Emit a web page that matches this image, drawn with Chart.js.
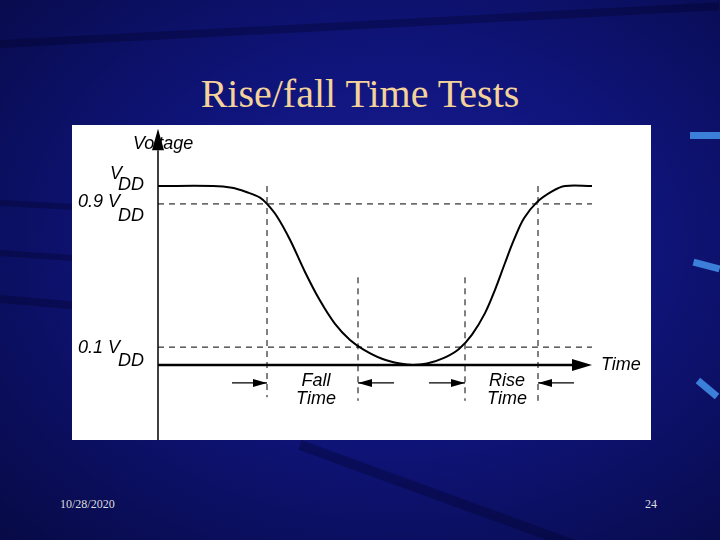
<!DOCTYPE html>
<html><head><meta charset="utf-8">
<script src="https://cdn.jsdelivr.net/npm/chart.js@4"></script>
<style>
html,body{margin:0;padding:0;width:720px;height:540px;overflow:hidden}
body{background:radial-gradient(ellipse at 55% 45%,#1a1f9a 0%,#0f147a 45%,#070a45 100%);position:relative;font-family:"Liberation Serif",serif}
.s{position:absolute;background:rgba(0,0,30,0.3);transform-origin:left center}
#title{position:absolute;left:0;width:720px;top:70px;text-align:center;color:#f3d39a;font-size:40px;font-family:"Liberation Serif",serif}
#panel{position:absolute;left:72px;top:125px;width:579px;height:315px;background:#fff}
.ft{position:absolute;top:497px;color:#ddd;font-size:12px}
</style></head><body>
<div class="s" style="left:0;top:40px;width:720px;height:8px;transform:rotate(-3deg)"></div>
<div class="s" style="left:0;top:200px;width:80px;height:6px;transform:rotate(3deg)"></div>
<div class="s" style="left:0;top:250px;width:80px;height:6px;transform:rotate(4deg)"></div>
<div class="s" style="left:0;top:295px;width:80px;height:8px;transform:rotate(5deg)"></div>
<div class="s" style="left:300px;top:440px;width:420px;height:10px;transform:rotate(20deg)"></div>
<div style="position:absolute;left:690px;top:132px;width:30px;height:7px;background:#3b7fd8"></div>
<div style="position:absolute;left:693px;top:262px;width:27px;height:7px;background:#3b7fd8;transform:rotate(15deg)"></div>
<div style="position:absolute;left:695px;top:385px;width:25px;height:7px;background:#3b7fd8;transform:rotate(40deg)"></div>
<div id="title">Rise/fall Time Tests</div>
<div id="panel"><canvas id="c" width="579" height="315"></canvas></div>
<div class="ft" style="left:60px">10/28/2020</div>
<div class="ft" style="left:645px">24</div>
<script>
// x in pixels relative to panel origin ~ time units; y = fraction of VDD
const timeX = [86,141,160,175,188,195,205,218,233,248,263,278,292,310,328,341,355,372,387,400,413,423,433,442,452,465,480,493,520];
const voltage = [1,1,0.99,0.965,0.935,0.9,0.83,0.70,0.52,0.36,0.23,0.14,0.085,0.035,0.008,0,0.008,0.040,0.090,0.17,0.29,0.42,0.57,0.70,0.82,0.91,0.97,1,1];
const levels = [0.9, 0.1];
const tFall = [195, 286];
const tRise = [393, 466];
const pts = timeX.map((x,i)=>({x, y:voltage[i]}));
const ink='#000';
const dash = (data)=>({data, borderColor:ink, borderWidth:1, borderDash:[6,5], pointRadius:0, showLine:true, fill:false});
const ds = [
 {data:pts, borderColor:ink, borderWidth:2, pointRadius:0, showLine:true, tension:0.35, fill:false},
 dash([{x:86,y:levels[0]},{x:520,y:levels[0]}]),
 dash([{x:86,y:levels[1]},{x:520,y:levels[1]}]),
 dash([{x:tFall[0],y:1},{x:tFall[0],y:-0.18}]),
 dash([{x:tFall[1],y:0.49},{x:tFall[1],y:-0.2}]),
 dash([{x:tRise[0],y:0.49},{x:tRise[0],y:-0.2}]),
 dash([{x:tRise[1],y:1},{x:tRise[1],y:-0.2}])
];
const deco={id:'deco',afterDatasetsDraw(ch){
 const c=ch.ctx,X=ch.scales.x,Y=ch.scales.y;
 const px=v=>X.getPixelForValue(v),py=v=>Y.getPixelForValue(v);
 c.save();c.fillStyle=ink;c.strokeStyle=ink;
 const ax=px(86),ay=py(0);
 c.lineWidth=1.5;c.beginPath();c.moveTo(ax,py(-0.42));c.lineTo(ax,py(1.2));c.stroke();
 c.beginPath();c.moveTo(ax,py(1.32));c.lineTo(ax-6,py(1.2));c.lineTo(ax+6,py(1.2));c.closePath();c.fill();
 c.lineWidth=2.5;c.beginPath();c.moveTo(ax,ay);c.lineTo(px(500),ay);c.stroke();
 c.beginPath();c.moveTo(px(520),ay);c.lineTo(px(500),ay-6);c.lineTo(px(500),ay+6);c.closePath();c.fill();
 const yA=py(-0.1);c.lineWidth=1.2;
 [[160,tFall[0],1],[322,tFall[1],-1],[357,tRise[0],1],[502,tRise[1],-1]].forEach(([a,b,d])=>{
  c.beginPath();c.moveTo(px(a),yA);c.lineTo(px(b),yA);c.stroke();
  c.beginPath();c.moveTo(px(b),yA);c.lineTo(px(b)-d*14,yA-4);c.lineTo(px(b)-d*14,yA+4);c.closePath();c.fill();});
 c.font='italic 18px "Liberation Sans", Arial';c.textBaseline='alphabetic';
 c.textAlign='center';
 c.fillText('Fall',px(244),py(-0.12));c.fillText('Time',px(244),py(-0.22));
 c.fillText('Rise',px(435),py(-0.12));c.fillText('Time',px(435),py(-0.22));
 c.textAlign='left';
 c.fillText('Voltage',61,24);c.fillText('Time',529,245);
 c.fillText('V',38,54);c.fillText('DD',46,65);
 c.fillText('0.9 V',6,82);c.fillText('DD',46,96);
 c.fillText('0.1 V',6,228);c.fillText('DD',46,241);
 c.restore();}};
new Chart(document.getElementById('c'),{type:'scatter',data:{datasets:ds},plugins:[deco],
 options:{responsive:false,animation:false,layout:{padding:0},
 plugins:{legend:{display:false},tooltip:{enabled:false}},
 scales:{x:{type:'linear',min:0,max:579,display:false},y:{type:'linear',min:-0.419,max:1.341,display:false}}}});
</script></body></html>
